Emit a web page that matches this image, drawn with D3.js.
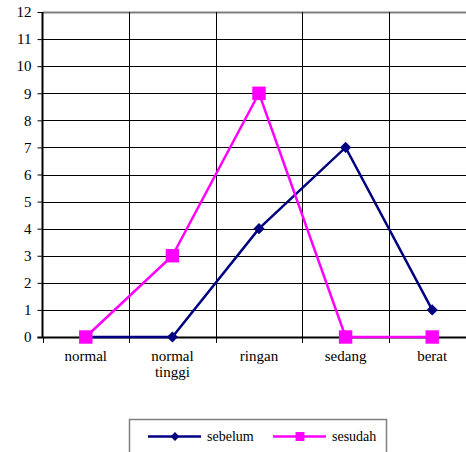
<!DOCTYPE html>
<html><head><meta charset="utf-8">
<script src="https://cdn.jsdelivr.net/npm/d3@7"></script>
<style>body{margin:0;background:#fff;} svg{display:block;}</style>
</head><body>
<script>
const categories = [["normal"], ["normal","tinggi"], ["ringan"], ["sedang"], ["berat"]];
const sebelum = [0, 0, 4, 7, 1];
const sesudah = [0, 3, 9, 0, 0];
const yTicks = [0,1,2,3,4,5,6,7,8,9,10,11,12];
const seriesNames = ["sebelum", "sesudah"];

(function(){
const W = 466, H = 452;
const svg = d3.select("body").append("svg").attr("width", W).attr("height", H);
const pLeft = 42.5, pTop = 12, pBottom = 337, pRight = 475.5;
const font = "'Liberation Serif', 'Times New Roman', serif";

const x = d3.scaleBand().domain(d3.range(categories.length)).range([pLeft, pRight]);
const y = d3.scaleLinear().domain([0, 12]).range([pBottom, pTop]);

const g = svg.append("g");
g.selectAll("line.h").data(yTicks.filter(d => d > 0)).enter().append("line")
  .attr("x1", pLeft).attr("x2", pRight)
  .attr("y1", d => Math.round(y(d)) + 0.5).attr("y2", d => Math.round(y(d)) + 0.5)
  .attr("stroke", d => d === 12 ? "#808080" : "#000").attr("stroke-width", d => d === 12 ? 2 : 1);
g.selectAll("line.v").data(d3.range(1, categories.length)).enter().append("line")
  .attr("x1", d => Math.round(x(d)) + 0.5).attr("x2", d => Math.round(x(d)) + 0.5)
  .attr("y1", pTop).attr("y2", pBottom).attr("stroke", "#000").attr("stroke-width", 1);

const yAxis = d3.axisLeft(y).tickValues(yTicks).tickSize(5).tickPadding(6).tickFormat(d3.format("d"));
const ya = svg.append("g").attr("transform", `translate(${pLeft},0)`).call(yAxis);
ya.select(".domain").attr("stroke-width", 2).attr("d", `M0,${pTop}V${pBottom}`);
ya.selectAll(".tick line").attr("stroke", "#000");
ya.selectAll("text").style("font-family", font).style("font-size", "15px").attr("fill", "#000");

const xa = svg.append("g");
xa.append("line").attr("x1", pLeft - 5).attr("x2", pRight).attr("y1", pBottom + 0.5).attr("y2", pBottom + 0.5)
  .attr("stroke", "#000").attr("stroke-width", 2);
xa.selectAll("line.t").data(d3.range(0, categories.length + 1)).enter().append("line")
  .attr("x1", d => Math.round(d < categories.length ? x(d) : pRight) + 0.5)
  .attr("x2", d => Math.round(d < categories.length ? x(d) : pRight) + 0.5)
  .attr("y1", pBottom).attr("y2", pBottom + 6).attr("stroke", "#000");
const lbl = xa.selectAll("text").data(categories).enter().append("text")
  .attr("x", (d, i) => x(i) + x.bandwidth() / 2).attr("y", pBottom + 24)
  .attr("text-anchor", "middle").style("font-family", font).style("font-size", "15px").attr("fill", "#000");
lbl.selectAll("tspan").data(d => d).enter().append("tspan")
  .attr("x", function() { return this.parentNode.getAttribute("x"); })
  .attr("dy", (d, i) => i === 0 ? 0 : 16).text(d => d);

const cx = i => x(i) + x.bandwidth() / 2;
const line = d3.line().x((d, i) => cx(i)).y(d => y(d));
const colors = ["#000080", "#FF00FF"];
const series = [sebelum, sesudah];
series.forEach((s, k) => {
  svg.append("path").datum(s).attr("d", line).attr("fill", "none")
    .attr("stroke", colors[k]).attr("stroke-width", 2.5);
  const sym = k === 0 ? d3.symbol().type(d3.symbolDiamond2).size(80) : d3.symbol().type(d3.symbolSquare).size(180);
  svg.selectAll(null).data(s).enter().append("path")
    .attr("d", sym).attr("transform", (d, i) => `translate(${cx(i)},${y(d)})`)
    .attr("fill", colors[k]);
});

const lg = svg.append("g");
lg.append("rect").attr("x", 129.5).attr("y", 419.5).attr("width", 257).attr("height", 40)
  .attr("fill", "#fff").attr("stroke", "#808080").attr("stroke-width", 1.5);
const lx = [148, 273];
seriesNames.forEach((n, k) => {
  lg.append("line").attr("x1", lx[k]).attr("x2", lx[k] + 53).attr("y1", 436.5).attr("y2", 436.5)
    .attr("stroke", colors[k]).attr("stroke-width", 2.5);
  const sym = k === 0 ? d3.symbol().type(d3.symbolDiamond2).size(50) : d3.symbol().type(d3.symbolSquare).size(80);
  lg.append("path").attr("d", sym).attr("transform", `translate(${lx[k] + 27},436.5)`).attr("fill", colors[k]);
  lg.append("text").attr("x", lx[k] + 59).attr("y", 441).style("font-family", font).style("font-size", "14px")
    .attr("fill", "#000").text(n);
});
})();
</script>
</body></html>
